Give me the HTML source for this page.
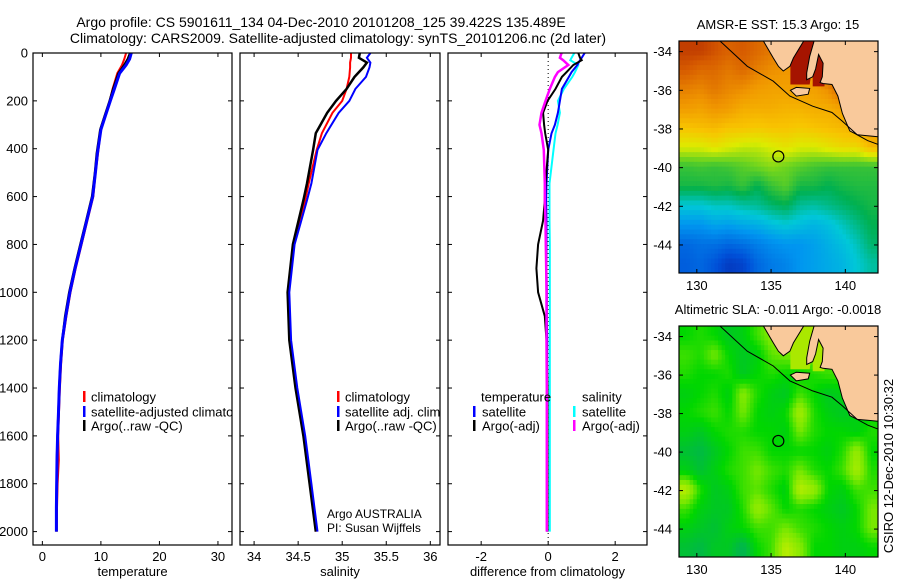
<!DOCTYPE html>
<html><head><meta charset="utf-8">
<style>
html,body{margin:0;padding:0;background:#fff;}
svg{display:block;font-family:"Liberation Sans",sans-serif;}
</style></head>
<body>
<svg id="fig" width="900" height="580" viewBox="0 0 900 580" xmlns="http://www.w3.org/2000/svg">
<rect x="0" y="0" width="900" height="580" fill="#fff"/>
<text x="321" y="27" font-size="14" text-anchor="middle">Argo profile: CS 5901611_134 04-Dec-2010 20101208_125 39.422S 135.489E</text>
<text x="338" y="43" font-size="14" text-anchor="middle">Climatology: CARS2009. Satellite-adjusted climatology: synTS_20101206.nc (2d later)</text>
<g id="g"></g>
</svg>
<script>
// ---------- data ----------
const tempDepth=[0,25,50,85,150,200,260,320,420,500,600,700,800,900,1000,1100,1200,1300,1400,1500,1600,1700,1800,1900,2000];
const tempClim=[14.3,14.0,13.6,12.8,12.0,11.5,10.8,10.0,9.5,9.1,8.7,7.7,6.7,5.7,4.8,4.1,3.5,3.2,3.0,2.85,2.7,2.8,2.6,2.5,2.45];
const tempSat=[15.2,14.9,14.3,13.2,12.3,11.6,10.8,10.0,9.4,9.06,8.6,7.6,6.6,5.6,4.7,4.0,3.4,3.1,2.9,2.75,2.6,2.5,2.45,2.4,2.4];
const tempArgo=[15.0,14.6,14.0,13.0,12.1,11.5,10.7,9.9,9.3,9.0,8.5,7.5,6.5,5.5,4.6,3.9,3.4,3.1,2.9,2.75,2.6,2.5,2.45,2.4,2.4];
const salDepth=[0,20,40,60,100,150,200,250,335,405,545,615,800,1000,1200,1400,1600,1800,2000];
const salClim=[35.10,35.10,35.09,35.09,35.08,35.05,35.00,34.89,34.77,34.71,34.62,34.58,34.45,34.39,34.41,34.48,34.57,34.64,34.70];
const salSat=[35.32,35.28,35.32,35.31,35.27,35.15,35.08,34.96,34.82,34.72,34.65,34.60,34.46,34.40,34.42,34.49,34.58,34.65,34.72];
const salArgo=[35.20,35.19,35.28,35.24,35.14,35.05,34.93,34.83,34.70,34.67,34.60,34.56,34.44,34.38,34.40,34.47,34.56,34.63,34.70];
const difDepth=[0,20,30,50,80,100,150,200,250,300,336,405,545,615,700,800,900,1000,1100,1200,1400,1600,1800,2000];
const difTempSat=[1.09,1.0,0.95,0.87,0.7,0.62,0.41,0.35,0.29,0.2,0.1,0,-0.05,-0.06,-0.05,-0.05,-0.05,-0.04,-0.04,-0.03,-0.03,-0.03,-0.03,-0.03];
const difTempArgo=[0.9,0.95,1.0,0.75,0.55,0.41,0.22,-0.02,-0.15,-0.12,-0.09,0,-0.08,-0.1,-0.15,-0.3,-0.35,-0.3,-0.1,-0.05,-0.02,-0.02,-0.02,-0.02];
const difSalSat=[0.78,0.7,0.66,0.9,0.8,0.72,0.47,0.29,0.35,0.28,0.22,0.16,0.04,0.04,0.04,0.05,0.05,0.05,0.05,0.05,0.05,0.05,0.05,0.05];
const difSalArgo=[0.4,0.35,0.45,0.6,0.29,0.2,0.05,-0.08,-0.2,-0.26,-0.2,-0.13,-0.1,-0.1,-0.08,-0.07,-0.06,-0.05,-0.05,-0.05,-0.04,-0.04,-0.04,-0.04];
const depthTicks=[0,200,400,600,800,1000,1200,1400,1600,1800,2000];
const tempTicks=[0,10,20,30];
const salTicks=[34,34.5,35,35.5,36];
const difTicks=[-2,0,2];
const latTicks=[-34,-36,-38,-40,-42,-44];
const lonTicks=[130,135,140];
const sstGrid=[
[0.95,0.95,0.93,0.91,0.92,0.9,0.88,0.87,0.86,0.97,0.97,0.97,0.97,0.97],
[0.92,0.9,0.9,0.88,0.9,0.87,0.85,0.84,0.83,0.84,0.97,0.97,0.97,0.97],
[0.87,0.86,0.88,0.86,0.85,0.83,0.82,0.82,0.83,0.82,0.85,0.92,0.9,0.88],
[0.83,0.82,0.84,0.83,0.8,0.8,0.8,0.79,0.79,0.8,0.8,0.82,0.88,0.88],
[0.76,0.77,0.78,0.76,0.76,0.75,0.76,0.76,0.75,0.76,0.77,0.78,0.8,0.84],
[0.68,0.68,0.7,0.68,0.66,0.66,0.68,0.7,0.68,0.68,0.7,0.72,0.72,0.78],
[0.55,0.56,0.55,0.56,0.58,0.6,0.62,0.6,0.58,0.56,0.55,0.55,0.55,0.55],
[0.52,0.52,0.53,0.52,0.55,0.5,0.55,0.58,0.52,0.52,0.5,0.52,0.53,0.53],
[0.4,0.4,0.42,0.42,0.44,0.45,0.48,0.5,0.45,0.44,0.46,0.48,0.5,0.52],
[0.3,0.3,0.33,0.32,0.34,0.35,0.38,0.4,0.38,0.36,0.38,0.42,0.46,0.5],
[0.2,0.22,0.22,0.2,0.22,0.25,0.28,0.3,0.3,0.32,0.35,0.38,0.42,0.48],
[0.18,0.2,0.16,0.1,0.12,0.2,0.24,0.26,0.3,0.32,0.34,0.36,0.4,0.44]];
const slaGrid=[
[0.5,0.55,0.5,0.4,0.45,0.6,0.75,0.8,0.8,0.8,0.7,0.7,0.6,0.6],
[0.6,0.55,0.7,0.5,0.4,0.45,0.65,0.7,0.7,0.7,0.6,0.6,0.6,0.6],
[0.55,0.5,0.5,0.55,0.4,0.5,0.55,0.5,0.5,0.55,0.6,0.6,0.6,0.6],
[0.45,0.5,0.55,0.45,0.75,0.55,0.45,0.4,0.6,0.5,0.4,0.45,0.5,0.5],
[0.5,0.55,0.6,0.5,0.7,0.5,0.45,0.5,0.85,0.55,0.45,0.4,0.45,0.5],
[0.45,0.4,0.5,0.55,0.55,0.5,0.5,0.45,0.7,0.55,0.5,0.5,0.45,0.55],
[0.35,0.3,0.4,0.5,0.6,0.6,0.5,0.5,0.5,0.5,0.45,0.55,0.8,0.5],
[0.45,0.35,0.45,0.55,0.6,0.7,0.6,0.55,0.7,0.55,0.5,0.6,0.85,0.55],
[0.9,0.55,0.4,0.45,0.6,0.65,0.55,0.45,0.9,0.8,0.5,0.45,0.6,0.6],
[0.6,0.45,0.4,0.4,0.55,0.8,0.65,0.5,0.55,0.5,0.45,0.4,0.5,0.7],
[0.45,0.4,0.35,0.45,0.5,0.6,0.6,0.7,0.6,0.55,0.5,0.45,0.5,0.7],
[0.35,0.3,0.4,0.4,0.25,0.5,0.6,0.9,0.75,0.5,0.5,0.45,0.45,0.5]];
const eyreLon=[134.48,135.15,135.49,135.82,136.27,136.5,137.2];
const eyreLat=[-33.45,-34.33,-34.76,-35.0,-34.76,-34.33,-33.45];
const mainLon=[137.9,137.6,137.4,137.4,137.8,138.0,138.2,138.5,138.45,138.3,138.5,139.1,139.5,139.8,140.3,140.8,141.5,142.2,142.2];
const mainLat=[-33.45,-34.24,-35.1,-35.45,-35.3,-34.9,-34.15,-34.6,-35.3,-35.6,-35.65,-35.7,-36.3,-37.2,-38.1,-38.3,-38.35,-38.4,-33.45];
const spencerLon=[136.3,138.0,137.6,136.3];
const spencerLat=[-33.45,-33.45,-35.7,-35.7];
const vincentLon=[137.8,138.6,138.6,137.8];
const vincentLat=[-34.0,-34.0,-35.8,-35.8];
const islandLon=[136.3,136.7,137.6,137.5,136.7];
const islandLat=[-36.0,-35.85,-35.9,-36.2,-36.3];
const shelfLon=[131.56,133.4,135.15,136.27,137.8,139.1,139.8,140.8,141.5,142.2];
const shelfLat=[-33.45,-34.76,-35.53,-36.3,-36.82,-37.15,-37.6,-38.3,-38.6,-38.8];
const argoLon=135.489, argoLat=-39.422;

// ---------- helpers ----------
const NS="http://www.w3.org/2000/svg";
const G=document.getElementById('g');
function mk(tag,attrs,parent){const e=document.createElementNS(NS,tag);for(const k in attrs)e.setAttribute(k,attrs[k]);(parent||G).appendChild(e);return e;}
function txt(x,y,s,size,anchor,parent){const t=mk('text',{x:x,y:y,'font-size':size,'text-anchor':anchor||'middle'},parent);t.textContent=s;return t;}

const PT=53, PB=545;
const yD=d=>PT+d*0.2393;
const panels=[
 {x0:33,x1:232,v0:-1.6,v1:32.4,ticks:tempTicks,label:'temperature',name:'temperature-panel'},
 {x0:240,x1:440,v0:33.84,v1:36.11,ticks:salTicks,label:'salinity',name:'salinity-panel'},
 {x0:448,x1:647,v0:-2.99,v1:2.95,ticks:difTicks,label:'difference from climatology',name:'difference-panel'}];
function xs(p){return v=>p.x0+(v-p.v0)/(p.v1-p.v0)*(p.x1-p.x0);}

panels.forEach((p,i)=>{
 const g=mk('g',{});
 
 
 p.g=g;
 const clip=mk('clipPath',{id:'clip'+i},g);
 mk('rect',{x:p.x0,y:PT,width:p.x1-p.x0,height:PB-PT},clip);
 const fx=xs(p);
 depthTicks.forEach(d=>{
  mk('line',{x1:p.x0,x2:p.x0+4,y1:yD(d),y2:yD(d),stroke:'#000'},g);
  mk('line',{x1:p.x1-4,x2:p.x1,y1:yD(d),y2:yD(d),stroke:'#000'},g);
  if(i===0){const t=txt(28,yD(d)+4.5,String(d),13,'end',g);
   
   }
 });
 p.ticks.forEach(v=>{
  const x=fx(v);
  mk('line',{x1:x,x2:x,y1:PT,y2:PT+4,stroke:'#000'},g);
  mk('line',{x1:x,x2:x,y1:PB-4,y2:PB,stroke:'#000'},g);
  const t=txt(x,PB+16,String(v),13,'middle',g);
  
  
 });
 const xl=txt((p.x0+p.x1)/2,PB+31,p.label,13,'middle',g);
 
 
});

function profile(p,idx,depths,vals,color,w,name){
 const fx=xs(p);
 const pts=depths.map((d,k)=>fx(vals[k]).toFixed(1)+','+yD(d).toFixed(1)).join(' ');
 const l=mk('polyline',{points:pts,fill:'none',stroke:color,'stroke-width':w,'clip-path':'url(#clip'+idx+')'},p.g);
 
 
}
{const fx=xs(panels[2]);mk('line',{x1:fx(0),x2:fx(0),y1:PT,y2:PB,stroke:'#000','stroke-dasharray':'1,3','stroke-width':1},panels[2].g);}
profile(panels[0],0,tempDepth,tempClim,'#f00',2,'temperature-climatology-line');
profile(panels[0],0,tempDepth,tempArgo,'#000',2.5,'temperature-argo-line');
profile(panels[0],0,tempDepth,tempSat,'#00f',3,'temperature-satellite-line');
profile(panels[1],1,salDepth,salClim,'#f00',2,'salinity-climatology-line');
profile(panels[1],1,salDepth,salArgo,'#000',2.5,'salinity-argo-line');
profile(panels[1],1,salDepth,salSat,'#00f',2,'salinity-satellite-line');
profile(panels[2],2,difDepth,difSalSat,'#0ff',2,'diff-salinity-satellite-line');
profile(panels[2],2,difDepth,difTempSat,'#00f',2,'diff-temperature-satellite-line');
profile(panels[2],2,difDepth,difTempArgo,'#000',2,'diff-temperature-argo-line');
profile(panels[2],2,difDepth,difSalArgo,'#f0f',2.5,'diff-salinity-argo-line');
panels.forEach(p=>{mk('rect',{x:p.x0,y:PT,width:p.x1-p.x0,height:PB-PT,fill:'none',stroke:'#000','stroke-width':1.2},p.g);});

function legRow(p,idx,mx,tx,y,color,label,name){
 const g=mk('g',{'clip-path':'url(#clip'+idx+')'},p.g);
 
 
 if(color) mk('rect',{x:mx-1,y:y-6,width:2.5,height:11,fill:color},g);
 txt(tx,y+4.5,label,13,'start',g);
}
legRow(panels[0],0,84,91,397,'#f00','climatology','legend-entry-climatology');
legRow(panels[0],0,84,91,412,'#00f','satellite-adjusted climatology','legend-entry-satellite');
legRow(panels[0],0,84,91,426,'#000','Argo(..raw -QC)','legend-entry-argo');
legRow(panels[1],1,338,345,397,'#f00','climatology','legend-entry-climatology');
legRow(panels[1],1,338,345,412,'#00f','satellite adj. clim.','legend-entry-satellite');
legRow(panels[1],1,338,345,426,'#000','Argo(..raw -QC)','legend-entry-argo');
legRow(panels[2],2,0,481,397,null,'temperature','legend-header-temperature');
legRow(panels[2],2,474,482,412,'#00f','satellite','legend-entry-temp-satellite');
legRow(panels[2],2,474,482,426,'#000','Argo(-adj)','legend-entry-temp-argo');
legRow(panels[2],2,0,582,397,null,'salinity','legend-header-salinity');
legRow(panels[2],2,574,582,412,'#0ff','satellite','legend-entry-sal-satellite');
legRow(panels[2],2,574,582,426,'#f0f','Argo(-adj)','legend-entry-sal-argo');
{const a=txt(327,518,'Argo AUSTRALIA',12,'start',panels[1].g);
 
 
 const b=txt(327,532,'PI: Susan Wijffels',12,'start',panels[1].g);
 
 }

// ---------- maps ----------
function interp(stops,v){v=Math.max(0,Math.min(1,v));for(let i=1;i<stops.length;i++){if(v<=stops[i][0]){const a=stops[i-1],b=stops[i],t=(v-a[0])/(b[0]-a[0]);const c=[0,1,2].map(k=>Math.round(a[1][k]+(b[1][k]-a[1][k])*t));return 'rgb('+c.join(',')+')';}}return 'rgb('+stops[stops.length-1][1].join(',')+')';}
const sstStops=[[0,[10,20,150]],[0.15,[0,80,216]],[0.3,[0,150,240]],[0.4,[0,200,215]],[0.5,[0,176,80]],[0.6,[110,212,30]],[0.68,[220,236,0]],[0.76,[248,196,0]],[0.84,[240,150,0]],[0.92,[214,90,0]],[1,[160,16,0]]];
const slaStops=[[0,[0,160,130]],[0.3,[0,185,70]],[0.5,[0,215,0]],[0.7,[120,232,0]],[1,[220,240,0]]];
const LON0=128.8,LON1=142.2,LAT0=-33.45,LAT1=-45.45;
function sample(grid,fr,fc){
 const R=grid.length,C=grid[0].length;
 fr=Math.max(0,Math.min(R-1,fr));fc=Math.max(0,Math.min(C-1,fc));
 const r0=Math.floor(fr),c0=Math.floor(fc),r1=Math.min(R-1,r0+1),c1=Math.min(C-1,c0+1),tr=fr-r0,tc=fc-c0;
 return grid[r0][c0]*(1-tr)*(1-tc)+grid[r0][c1]*(1-tr)*tc+grid[r1][c0]*tr*(1-tc)+grid[r1][c1]*tr*tc;
}
function drawMap(m){
 const g=mk('g',{});
 
 
 const W=878-679,H=m.y1-m.y0;
 const lx=lon=>679+(lon-LON0)/(LON1-LON0)*W;
 const ly=lat=>m.y0+(lat-LAT0)/(LAT1-LAT0)*H;
 const cid='mclip'+m.name;
 const cp=mk('clipPath',{id:cid},g);mk('rect',{x:679,y:m.y0,width:W,height:H},cp);
 const inner=mk('g',{'clip-path':'url(#'+cid+')'},g);
 const rows=m.grid.length,cols=m.grid[0].length,S=4;
 const nR=rows*S,nC=cols*S;
 const dLon=(LON1-LON0)/nC,dLat=(LAT1-LAT0)/nR;
 for(let r=0;r<nR;r++)for(let c=0;c<nC;c++){
  const v=sample(m.grid,(r+0.5)/S-0.5,(c+0.5)/S-0.5);
  const x=lx(LON0+c*dLon),y=ly(LAT0+r*dLat);
  const cell=mk('rect',{x:x.toFixed(2),y:y.toFixed(2),width:(lx(LON0+(c+1)*dLon)-x+0.5).toFixed(2),height:(ly(LAT0+(r+1)*dLat)-y+0.5).toFixed(2),fill:interp(m.stops,v)},inner);
  
  
 }
 const poly=(lons,lats,fill,stroke,name)=>{const e=mk('polygon',{points:lons.map((o,k)=>lx(o).toFixed(1)+','+ly(lats[k]).toFixed(1)).join(' '),fill:fill,stroke:stroke,'stroke-width':1},inner);
  
  };
 poly(spencerLon,spencerLat,m.gulf,'none','spencer-gulf');
 poly(vincentLon,vincentLat,m.gulf,'none','gulf-st-vincent');
 poly(eyreLon,eyreLat,'#f9c99b','#000','eyre-peninsula');
 poly(mainLon,mainLat,'#f9c99b','#000','mainland');
 poly(islandLon,islandLat,'#f9c99b','#000','kangaroo-island');
 const sh=mk('polyline',{points:shelfLon.map((o,k)=>lx(o).toFixed(1)+','+ly(shelfLat[k]).toFixed(1)).join(' '),fill:'none',stroke:'#000','stroke-width':1},inner);
 
 
 const ci=mk('circle',{cx:lx(argoLon),cy:ly(argoLat),r:5.5,fill:'none',stroke:'#000','stroke-width':1.2},inner);
 
 
 mk('rect',{x:679,y:m.y0,width:W,height:H,fill:'none',stroke:'#000','stroke-width':1.2},g);
 latTicks.forEach(lat=>{const y=ly(lat);
  mk('line',{x1:679,x2:683,y1:y,y2:y,stroke:'#000'},g);mk('line',{x1:874,x2:878,y1:y,y2:y,stroke:'#000'},g);
  const t=txt(672,y+4.5,String(lat),13,'end',g);
  
  });
 lonTicks.forEach(lon=>{const x=lx(lon);
  mk('line',{x1:x,x2:x,y1:m.y0,y2:m.y0+4,stroke:'#000'},g);mk('line',{x1:x,x2:x,y1:m.y1-4,y2:m.y1,stroke:'#000'},g);
  const t=txt(x,m.y1+17,String(lon),13,'middle',g);
  
  });
 const tt=txt(778,m.y0-12,m.title,13,'middle',g);
 
 
}
drawMap({name:'sst-map',y0:41,y1:273,grid:sstGrid,stops:sstStops,gulf:'rgb(165,20,0)',title:'AMSR-E SST: 15.3 Argo: 15'});
drawMap({name:'sla-map',y0:326,y1:557,grid:slaGrid,stops:slaStops,gulf:'rgb(170,232,0)',title:'Altimetric SLA: -0.011  Argo: -0.0018'});
{const c=txt(0,0,'CSIRO 12-Dec-2010 10:30:32',13,'middle');
 c.setAttribute('transform','translate(893,466) rotate(-90)');
 
 }
</script>
</body></html>
